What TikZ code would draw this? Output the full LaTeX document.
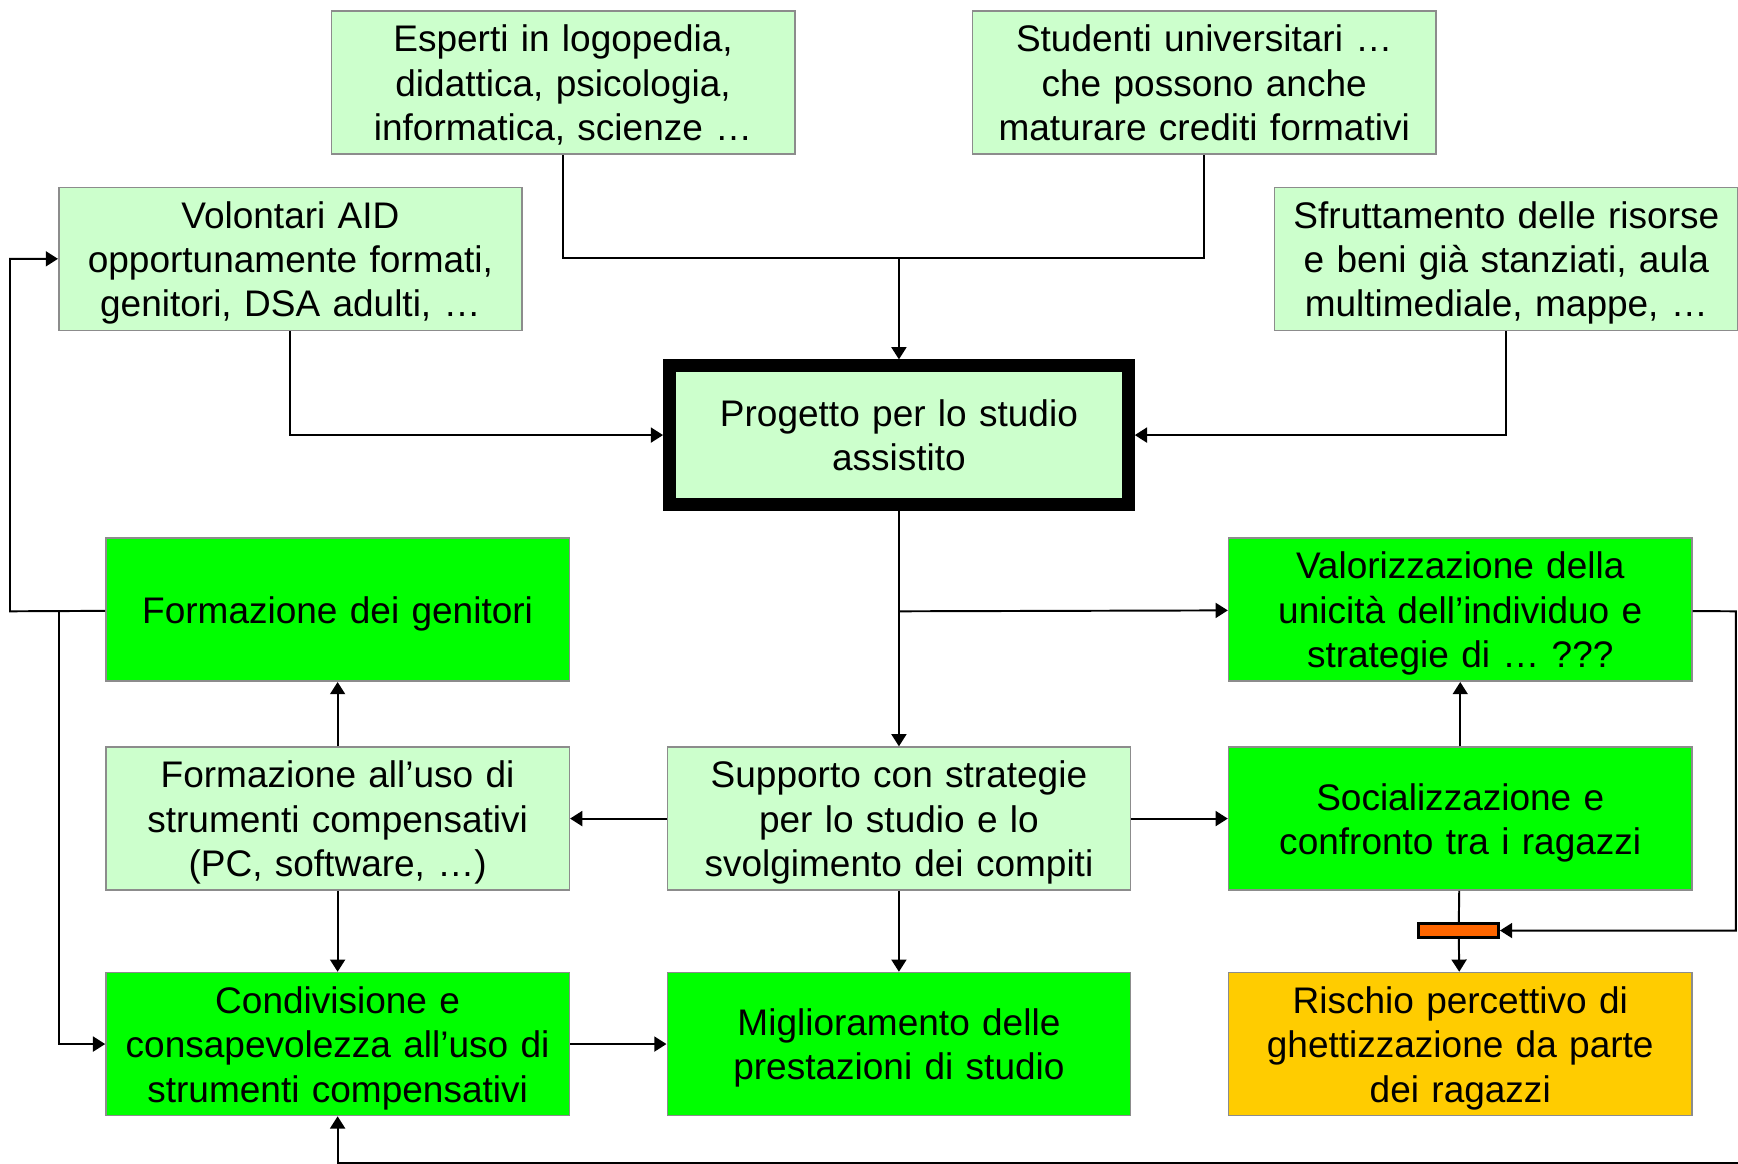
\documentclass[tikz,border=0pt]{standalone}
\usepackage{fontspec}
\setmainfont{Liberation Sans}
\usetikzlibrary{positioning,arrows.meta}
\definecolor{palegreen}{HTML}{CCFFCC}
\definecolor{vividgreen}{HTML}{00FF00}
\definecolor{amber}{HTML}{FFCC00}
\definecolor{barorange}{HTML}{FF6600}
\tikzstyle{block} = [draw=black!45, line width=0.4pt, fill=palegreen, minimum width = 4.18cm, minimum height = 1.29cm, inner sep=0pt, text width = 4.1cm, align=center, font=\fontsize{9.5}{11.4}\selectfont,
    execute at begin node={\rule{0pt}{9.4pt}}, execute at end node={\rule[-2.4pt]{0pt}{2.4pt}}]
\tikzstyle{active} = [block, fill=vividgreen]
\tikzstyle{risk} = [block, fill=amber]
\tikzstyle{core} = [block, draw=black, line width=3.3pt, minimum width = 4.14cm, minimum height = 1.25cm]
\tikzstyle{gate} = [draw, line width=0.7pt, fill=barorange, minimum width = 0.72cm, minimum height = 0.13cm, inner sep=0pt]

\begin{document}
\begin{tikzpicture}[>={Triangle[length=1.1mm, width=1.35mm]}, line width=0.5pt]
        \useasboundingbox (0,0) rectangle (15.68,-10.50);
        %Blocks
        \node [block] (esperti) at (5.08,-0.745) {Esperti in logopedia,\\didattica, psicologia,\\informatica, scienze …};
        \node [block, right = 1.59cm of esperti] (studenti) {Studenti universitari …\\che possono anche\\maturare crediti formativi};
        \node [block] (volontari) at (2.62,-2.335) {Volontari AID\\opportunamente formati,\\genitori, DSA adulti, …};
        \node [block] (risorse) at (13.59,-2.335) {Sfruttamento delle risorse\\e beni già stanziati, aula\\multimediale, mappe, …};
        \node [core] (progetto) at (8.11,-3.925) {Progetto per lo studio\\assistito};
        \node [block] (supporto) at (8.11,-7.385) {Supporto con strategie\\per lo studio e lo\\svolgimento dei compiti};
        \node [block, left = 0.87cm of supporto] (uso) {Formazione all’uso di\\strumenti compensativi\\(PC, software, …)};
        \node [active, right = 0.87cm of supporto] (social) {Socializzazione e\\confronto tra i ragazzi};
        \node [active, above = 0.58cm of uso] (genitori) {Formazione dei genitori};
        \node [active, above = 0.58cm of social] (unicita) {Valorizzazione della\\unicità dell’individuo e\\strategie di … ???};
        \node [active, below = 0.73cm of uso] (condivisione) {Condivisione e\\consapevolezza all’uso di\\strumenti compensativi};
        \node [active, below = 0.73cm of supporto] (miglioramento) {Miglioramento delle\\prestazioni di studio};
        \node [risk, below = 0.73cm of social] (rischio) {Rischio percettivo di\\ghettizzazione da parte\\dei ragazzi};
        \node [gate] (gate1) at (13.16,-8.395) {};
        %Junctions
        \coordinate (join1) at (8.11,-2.33);
        \coordinate (join2) at (8.11,-5.515);
        \coordinate (left1) at (0.09,-5.515);
        \coordinate (left2) at (0.53,-5.515);
        \coordinate (right1) at (15.66,-5.515);
        \coordinate (bottom1) at (15.68,-10.49);
        %Arrows
        \draw (esperti) |- (join1) -| (studenti);
        \draw[->] (join1) -- (progetto);
        \draw[->] (volontari) |- (progetto);
        \draw[->] (risorse) |- (progetto);
        \draw[->] (progetto) -- (supporto);
        \draw[->] (join2) -- (unicita);
        \draw[->] (genitori) -- (left1) |- (volontari);
        \draw[->] (left2) |- (condivisione);
        \draw[->] (uso) -- (genitori);
        \draw[->] (uso) -- (condivisione);
        \draw[->] (supporto) -- (uso);
        \draw[->] (supporto) -- (social);
        \draw[->] (supporto) -- (miglioramento);
        \draw[->] (condivisione) -- (miglioramento);
        \draw[->] (social) -- (unicita);
        \draw (social) -- (gate1);
        \draw[->] (gate1) -- (rischio);
        \draw[->] (unicita) -- (right1) |- (gate1);
        \draw[->] (bottom1) -| (condivisione);
    \end{tikzpicture}
\end{document}
